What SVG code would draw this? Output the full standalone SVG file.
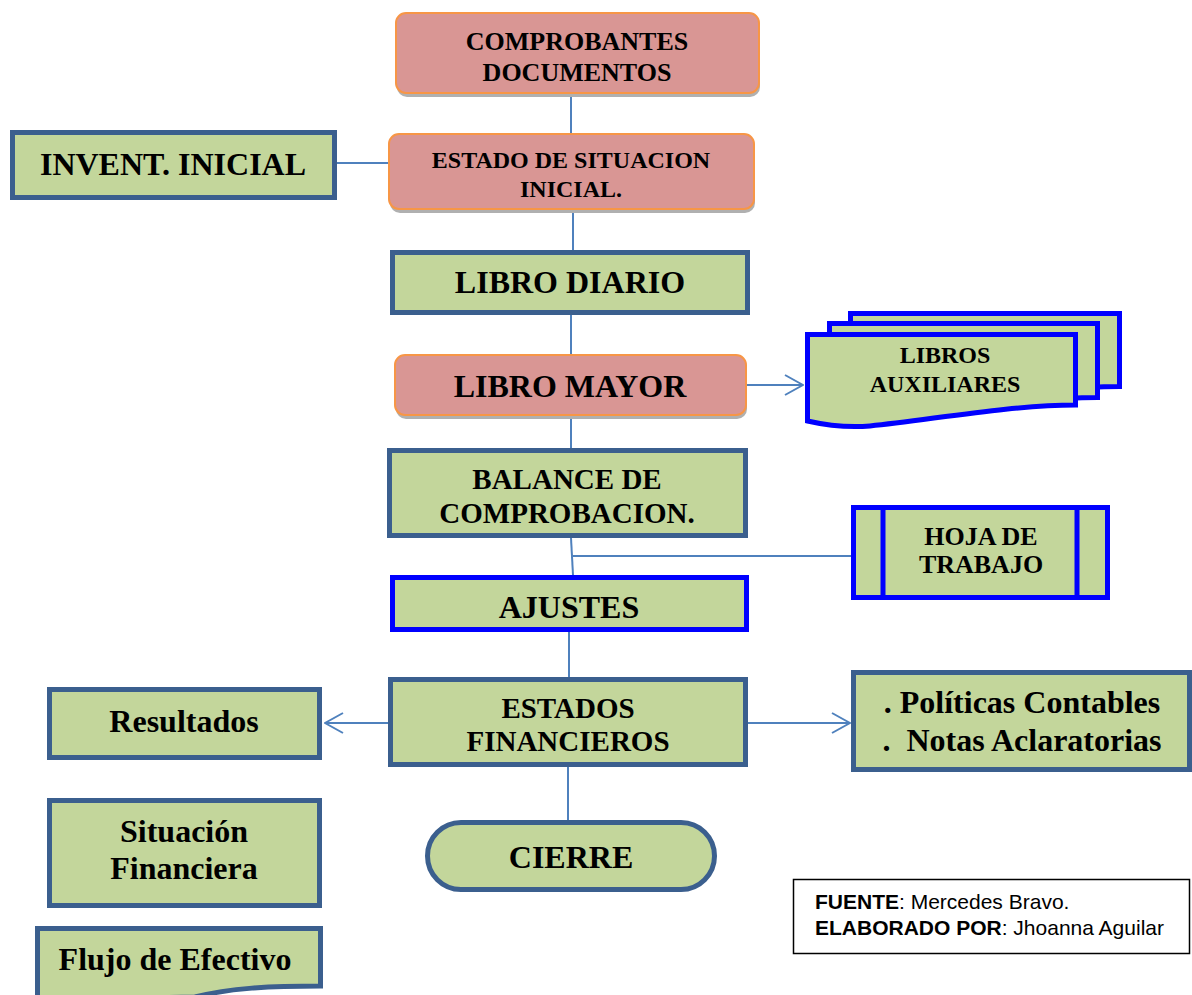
<svg xmlns="http://www.w3.org/2000/svg" width="1192" height="995" viewBox="0 0 1192 995">
<defs>
<style>
.g{fill:#C3D69B;stroke:#3B5F8E;stroke-width:5}
.b{fill:#C3D69B;stroke:#0000FF;stroke-width:5}
.p{fill:#D99694;stroke:#F79646;stroke-width:2}
.sh{fill:#B0B0B0}
.t{font-family:"Liberation Serif","Times New Roman",serif;font-weight:bold;fill:#000;text-anchor:middle}
.c{fill:none;stroke:#4F81BD;stroke-width:2}
.s{font-family:"Liberation Sans",Arial,sans-serif;font-size:21px;fill:#000}
</style>
<marker id="ah" viewBox="0 0 20 22" refX="19" refY="11" markerWidth="20" markerHeight="22" markerUnits="userSpaceOnUse" orient="auto">
<path d="M1,1 L19,11 L1,21" fill="none" stroke="#4F81BD" stroke-width="2"/>
</marker>
</defs>
<rect width="1192" height="995" fill="#fff"/>

<g id="connectors">
<line class="c" x1="571" y1="95" x2="571" y2="133"/>
<line class="c" x1="337" y1="163" x2="388" y2="163"/>
<line class="c" x1="573" y1="210" x2="573" y2="251"/>
<line class="c" x1="571" y1="315" x2="571" y2="354"/>
<line class="c" x1="747" y1="385" x2="803" y2="385" marker-end="url(#ah)"/>
<line class="c" x1="571" y1="416" x2="571" y2="449"/>
<line class="c" x1="571" y1="538" x2="573" y2="575"/>
<line class="c" x1="573" y1="556" x2="851" y2="556"/>
<line class="c" x1="569" y1="632" x2="569" y2="677"/>
<line class="c" x1="390" y1="723" x2="325" y2="723" marker-end="url(#ah)"/>
<line class="c" x1="746" y1="723" x2="850" y2="723" marker-end="url(#ah)"/>
<line class="c" x1="568" y1="767" x2="568" y2="821"/>
</g>

<g id="comprobantes">
<rect class="sh" x="397" y="16" width="363" height="81" rx="10"/>
<rect class="p" x="396" y="13" width="363" height="80" rx="10"/>
<text class="t" font-size="26" x="577" y="50">COMPROBANTES</text>
<text class="t" font-size="26" x="577" y="81">DOCUMENTOS</text>
</g>

<g id="invent">
<rect class="g" x="12.5" y="132.5" width="322" height="65"/>
<text class="t" font-size="32" x="173" y="175">INVENT. INICIAL</text>
</g>

<g id="estado-inicial">
<rect class="sh" x="390" y="137" width="365" height="76" rx="10"/>
<rect class="p" x="389" y="134" width="365" height="75" rx="10"/>
<text class="t" font-size="24" x="571" y="168">ESTADO DE SITUACION</text>
<text class="t" font-size="24" x="571" y="197">INICIAL.</text>
</g>

<g id="libro-diario">
<rect class="g" x="392.5" y="252.5" width="355" height="60"/>
<text class="t" font-size="32" x="570" y="293">LIBRO DIARIO</text>
</g>

<g id="libro-mayor">
<rect class="sh" x="396" y="358" width="351" height="61" rx="10"/>
<rect class="p" x="395" y="355" width="351" height="60" rx="10"/>
<text class="t" font-size="32" x="570" y="397">LIBRO MAYOR</text>
</g>

<g id="libros-auxiliares">
<path class="b" d="M850.5,313.5 H1119.5 V386.5 C1054,386.5 974,401 914,407 C889,409 869,406 850.5,402 Z"/>
<path class="b" d="M829.5,323.5 H1097.5 V397.5 C1032,397.5 952,412 892,418 C867,420 847,417 829.5,413 Z"/>
<path class="b" d="M807.5,334.5 H1075.5 V405 C1010,405 930,420 870,426 C845,428 825,425 807.5,421 Z"/>
<text class="t" font-size="24" x="945" y="363">LIBROS</text>
<text class="t" font-size="24" x="945" y="392">AUXILIARES</text>
</g>

<g id="balance">
<rect class="g" x="389.5" y="450.5" width="356" height="85"/>
<text class="t" font-size="29" x="567" y="489">BALANCE DE</text>
<text class="t" font-size="29" x="567" y="523">COMPROBACION.</text>
</g>

<g id="hoja-trabajo">
<rect class="b" x="853.5" y="507.5" width="254" height="90"/>
<line x1="883" y1="507.5" x2="883" y2="597.5" stroke="#0000FF" stroke-width="5"/>
<line x1="1077" y1="507.5" x2="1077" y2="597.5" stroke="#0000FF" stroke-width="5"/>
<text class="t" font-size="26" x="981" y="545">HOJA DE</text>
<text class="t" font-size="26" x="981" y="573">TRABAJO</text>
</g>

<g id="ajustes">
<rect class="b" x="392.5" y="577.5" width="354" height="52"/>
<text class="t" font-size="32" x="569" y="618">AJUSTES</text>
</g>

<g id="estados-financieros">
<rect class="g" x="390.5" y="679.5" width="355" height="85"/>
<text class="t" font-size="29" x="568" y="718">ESTADOS</text>
<text class="t" font-size="29" x="568" y="751">FINANCIEROS</text>
</g>

<g id="resultados">
<rect class="g" x="49.5" y="689.5" width="270" height="68"/>
<text class="t" font-size="32" x="184" y="732">Resultados</text>
</g>

<g id="politicas">
<rect class="g" x="853.5" y="672.5" width="336" height="97"/>
<text class="t" font-size="32" x="1022" y="713">. Políticas Contables</text>
<text class="t" font-size="32" x="1022" y="751" xml:space="preserve">.  Notas Aclaratorias</text>
</g>

<g id="situacion">
<rect class="g" x="49.5" y="800.5" width="270" height="105"/>
<text class="t" font-size="32" x="184" y="842">Situación</text>
<text class="t" font-size="32" x="184" y="879">Financiera</text>
</g>

<g id="cierre">
<rect class="g" x="427.5" y="822.5" width="287" height="67" rx="33.5"/>
<text class="t" font-size="32" x="571" y="868">CIERRE</text>
</g>

<g id="flujo">
<path class="g" d="M37.5,928.5 H320.5 V986 C270,986 230,988 195,997 L37.5,1000 Z"/>
<text class="t" font-size="32" x="175" y="970">Flujo de Efectivo</text>
</g>

<g id="fuente">
<rect x="793.5" y="879.5" width="396" height="74" fill="#fff" stroke="#000" stroke-width="1.5"/>
<text class="s" x="815" y="909"><tspan font-weight="bold">FUENTE</tspan>: Mercedes Bravo.</text>
<text class="s" x="815" y="935"><tspan font-weight="bold">ELABORADO POR</tspan>: Jhoanna Aguilar</text>
</g>
</svg>
